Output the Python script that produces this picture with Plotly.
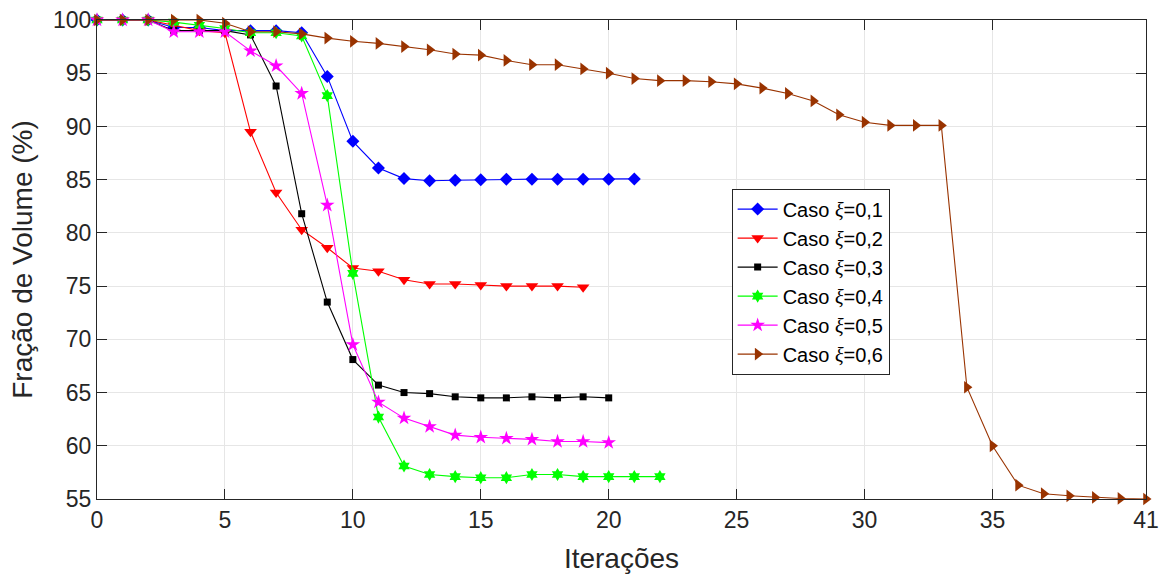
import plotly.graph_objects as go

# Volume fraction history (%) per iteration for each filter case
iter_blue = list(range(0, 22))
vol_blue = [100, 100, 100, 99.3, 99.3, 99.0, 99.0, 99.0, 98.8, 94.7, 88.6, 86.1, 85.1,
            84.9, 84.95, 85.0, 85.05, 85.05, 85.05, 85.05, 85.05, 85.07]

iter_red = list(range(0, 20))
vol_red = [100, 100, 100, 99.5, 99.0, 98.8, 89.5, 83.8, 80.3, 78.6, 76.7, 76.4, 75.6,
           75.2, 75.2, 75.1, 75.0, 75.0, 75.0, 74.9]

iter_black = list(range(0, 21))
vol_black = [100, 100, 100, 99.0, 99.0, 99.0, 98.6, 93.8, 81.8, 73.5, 68.1, 65.7, 65.0,
             64.9, 64.6, 64.5, 64.5, 64.6, 64.5, 64.6, 64.5]

iter_green = list(range(0, 23))
vol_green = [100, 100, 100, 99.8, 99.5, 99.2, 98.8, 98.8, 98.5, 92.9, 76.2, 62.7, 58.1,
             57.3, 57.1, 57.0, 57.0, 57.3, 57.3, 57.1, 57.1, 57.1, 57.1]

iter_magenta = list(range(0, 21))
vol_magenta = [100, 100, 100, 98.9, 98.9, 98.9, 97.1, 95.7, 93.1, 82.6, 69.5, 64.1, 62.6,
               61.8, 61.0, 60.8, 60.7, 60.6, 60.4, 60.4, 60.3]

iter_brown = list(range(0, 42))
vol_brown = [100, 100, 100, 100, 100, 99.7, 98.9, 98.9, 98.7, 98.3, 98.0, 97.8, 97.5,
             97.2, 96.8, 96.7, 96.2, 95.8, 95.8, 95.4, 95.0, 94.5, 94.3, 94.3, 94.2,
             94.0, 93.6, 93.1, 92.4, 91.1, 90.4, 90.1, 90.1, 90.1, 65.5, 60.0, 56.3,
             55.5, 55.3, 55.15, 55.05, 55.0]

case_labels = ["0,1", "0,2", "0,3", "0,4", "0,5", "0,6"]

x_ticks = [0, 5, 10, 15, 20, 25, 30, 35, 41]
y_ticks = [55, 60, 65, 70, 75, 80, 85, 90, 95, 100]

XI = "<span style=\"font-family:'Liberation Serif';font-style:italic\">ξ</span>"

series = [
    (iter_blue, vol_blue, "#0000ff", "diamond", 10),
    (iter_red, vol_red, "#ff0000", "triangle-down", 11),
    (iter_black, vol_black, "#000000", "square", 7),
    (iter_green, vol_green, "#00ff00", "hexagram", 10),
    (iter_magenta, vol_magenta, "#ff00ff", "star", 11),
    (iter_brown, vol_brown, "#993300", "triangle-right", 11),
]

fig = go.Figure()
for (xs, ys, color, symbol, size), lab in zip(series, case_labels):
    fig.add_trace(go.Scatter(
        x=xs, y=ys, mode="lines+markers",
        name=f"Caso {XI}={lab}",
        line=dict(color=color, width=1.1),
        marker=dict(color=color, symbol=symbol, size=size, line=dict(width=0)),
        cliponaxis=False,
    ))

axis_common = dict(
    showline=True, linecolor="#262626", linewidth=1.2, mirror="ticks",
    ticks="inside", ticklen=10, tickcolor="#262626", tickwidth=1,
    showgrid=True, gridcolor="#e6e6e6", gridwidth=1, zeroline=False,
    automargin=False,
    tickfont=dict(family="Liberation Sans, Arial", size=23, color="#262626"),
)

fig.update_layout(
    width=1161, height=574,
    margin=dict(l=97, r=15, t=20, b=75),
    paper_bgcolor="white", plot_bgcolor="white",
    font=dict(family="Liberation Sans, Arial", color="#262626"),
    xaxis=dict(
        range=[0, 41], tickvals=x_ticks, ticktext=[str(v) for v in x_ticks],
        title=dict(text="Iterações", font=dict(size=28, color="#262626"), standoff=18),
        **axis_common,
    ),
    yaxis=dict(
        range=[55, 100], tickvals=y_ticks,
        title=dict(text="Fração de Volume (%)", font=dict(size=28, color="#262626"), standoff=12),
        **axis_common,
    ),
    legend=dict(
        x=0.605, y=0.648, xanchor="left", yanchor="top",
        bgcolor="white", bordercolor="#262626", borderwidth=1,
        font=dict(family="Liberation Sans, Arial", size=20, color="#000000"),
        tracegroupgap=0, itemwidth=40,
    ),
)

fig.write_html("out.html")
